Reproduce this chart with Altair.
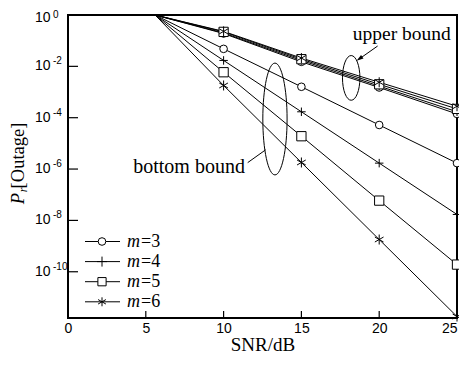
import altair as alt
import pandas as pd

# ---------------- data ----------------
snr = [10, 15, 20, 25]
start_snr = 5.6
m_labels = ["3", "4", "5", "6"]

bottom_bound = {
    "3": [4.8e-2, 1.6e-3, 5.2e-5, 1.7e-6],
    "4": [1.7e-2, 1.7e-4, 1.7e-6, 1.7e-8],
    "5": [5.9e-3, 1.9e-5, 5.9e-8, 1.9e-10],
    "6": [1.8e-3, 1.8e-6, 1.8e-9, 1.8e-12],
}
upper_bound = {
    "3": [1.9e-1, 1.5e-2, 1.5e-3, 1.4e-4],
    "4": [2.0e-1, 1.7e-2, 1.7e-3, 1.7e-4],
    "5": [2.2e-1, 1.9e-2, 2.0e-3, 2.2e-4],
    "6": [2.3e-1, 2.1e-2, 2.4e-3, 2.8e-4],
}
x_ticks = [0, 5, 10, 15, 20, 25]
y_ticks = [1, 1e-2, 1e-4, 1e-6, 1e-8, 1e-10]
y_tick_exp = ["0", "-2", "-4", "-6", "-8", "-10"]

# ---------------- styling ----------------
W, H = 389, 303
SERIF = "Liberation Serif"
SANS = "Liberation Sans"

paths = {
    "3": "circle",
    "4": "M-1,0L1,0M0,-1L0,1",
    "5": "square",
    "6": "M0,-1L0,1M-0.87,-0.5L0.87,0.5M-0.87,0.5L0.87,-0.5",
}
sizes = {"3": 58, "4": 100, "5": 68, "6": 80}

rows = []
for bound, d in [("bottom", bottom_bound), ("upper", upper_bound)]:
    for m in m_labels:
        rows.append(dict(snr=start_snr, p=1.0, m=m, series=bound + m, marker=False))
        for s, v in zip(snr, d[m]):
            rows.append(dict(snr=s, p=v, m=m, series=bound + m, marker=True))
df = pd.DataFrame(rows)

xs = alt.Scale(domain=[0, 25], nice=False, zero=False)
ys = alt.Scale(type="log", domain=[1.58e-12, 1], nice=False)
X = alt.X("snr:Q", scale=xs,
          axis=alt.Axis(values=x_ticks, format="d", ticks=False, domain=False, grid=False,
                        labelFont=SANS, labelFontSize=14, labelColor="black", labelPadding=3,
                        labelFlush=False,
                        labelAlign={"expr": "datum.value == 25 ? 'right' : 'center'"},
                        title="SNR/dB", titleFont=SERIF, titleFontSize=19,
                        titleFontWeight="normal", titleColor="black", titlePadding=0))
Y = alt.Y("p:Q", scale=ys, axis=None)

base = alt.Chart(df)
lines = base.mark_line(color="black", strokeWidth=1, clip=True).encode(
    x=X, y=Y, detail="series:N")
points = base.transform_filter("datum.marker").mark_point(
    filled=True, fill="white", stroke="black", strokeWidth=1, opacity=1).encode(
    x=X, y=Y,
    shape=alt.Shape("m:N", scale=alt.Scale(domain=m_labels, range=[paths[m] for m in m_labels]), legend=None),
    size=alt.Size("m:N", scale=alt.Scale(domain=m_labels, range=[sizes[m] for m in m_labels]), legend=None),
)

# ticks (inward)
xt = alt.Chart(pd.DataFrame({"snr": x_ticks})).mark_rule(color="black", strokeWidth=1.2).encode(
    x=X, y=alt.value(H), y2=alt.value(H - 7))
ydf = pd.DataFrame({"p": y_ticks, "base": ["10"] * len(y_ticks), "exp": y_tick_exp})
yt = alt.Chart(ydf).mark_rule(color="black", strokeWidth=1.2).encode(
    y=Y, x=alt.value(0), x2=alt.value(10))
ytop = alt.Chart(ydf.iloc[:1])
yrest = alt.Chart(ydf.iloc[1:])
lab_kw = dict(font=SANS, fontSize=14, align="left", baseline="middle", color="black")
exp_kw = dict(font=SANS, fontSize=10, align="left", baseline="middle", color="black")
ylab = yrest.mark_text(**lab_kw).encode(y=Y, x=alt.value(-33), text="base:N")
yexp = yrest.mark_text(dy=-5, **exp_kw).encode(y=Y, x=alt.value(-15), text="exp:N")
ylab0 = ytop.mark_text(dy=3, **lab_kw).encode(y=Y, x=alt.value(-33), text="base:N")
yexp0 = ytop.mark_text(dy=0, **exp_kw).encode(y=Y, x=alt.value(-15), text="exp:N")

# y title: P_r[Outage]
ytitle = [
    ("P", -50, 183.5, 18.5, "italic"),
    ("r", -45, 175, 12, "italic"),
    ("[Outage]", -50, 140.5, 18.5, "normal"),
]
ytitle_layers = []
for t, px, py, fs, st in ytitle:
    ytitle_layers.append(
        alt.Chart(pd.DataFrame({"t": [t]})).mark_text(
            font=SERIF, fontSize=fs, fontStyle=st, angle=270, align="center",
            baseline="middle", color="black").encode(
            x=alt.value(px), y=alt.value(py), text="t:N"))

# annotations
ell_up = alt.Chart(pd.DataFrame({"snr": [18.2], "p": [3.55e-3]})).mark_point(
    shape="M0,-1A0.39,1 0 1,1 0,1A0.39,1 0 1,1 0,-1Z", size=2000, filled=False,
    stroke="black", strokeWidth=1, opacity=1).encode(x=X, y=Y)
ell_bot = alt.Chart(pd.DataFrame({"snr": [13.3], "p": [8.9e-5]})).mark_point(
    shape="M0,-1A0.217,1 0 1,1 0,1A0.217,1 0 1,1 0,-1Z", size=12500, filled=False,
    stroke="black", strokeWidth=1, opacity=1).encode(x=X, y=Y)
arrow = alt.Chart(pd.DataFrame({"snr": [19.9], "p": [6.2e-2], "snr2": [18.75], "p2": [2.0e-2]})).mark_rule(
    color="black", strokeWidth=1).encode(x=X, y=Y, x2=alt.X2("snr2:Q"), y2=alt.Y2("p2:Q"))
head = alt.Chart(pd.DataFrame({"snr": [18.75], "p": [2.0e-2]})).mark_point(
    shape="M0,-1L0.55,0.8L-0.55,0.8Z", size=60, angle=235, filled=True, color="black", opacity=1).encode(x=X, y=Y)
conn = alt.Chart(pd.DataFrame({"snr": [11.55], "p": [1.78e-6], "snr2": [12.7], "p2": [5.6e-6]})).mark_rule(
    color="black", strokeWidth=1).encode(x=X, y=Y, x2=alt.X2("snr2:Q"), y2=alt.Y2("p2:Q"))
txt_up = alt.Chart(pd.DataFrame({"snr": [21.45], "p": [0.174], "t": ["upper bound"]})).mark_text(
    font=SERIF, fontSize=19.5, align="center", baseline="middle", color="black").encode(x=X, y=Y, text="t:N")
txt_bot = alt.Chart(pd.DataFrame({"snr": [7.78], "p": [1.15e-6], "t": ["bottom bound"]})).mark_text(
    font=SERIF, fontSize=20, align="center", baseline="middle", color="black").encode(x=X, y=Y, text="t:N")

# legend
leg_layers = []
for i, m in enumerate(m_labels):
    yy = 226.5 + i * 20.1
    leg_layers.append(alt.Chart(pd.DataFrame({"m": [m]})).mark_rule(color="black", strokeWidth=1).encode(
        x=alt.value(17), x2=alt.value(52), y=alt.value(yy)))
    leg_layers.append(alt.Chart(pd.DataFrame({"m": [m]})).mark_point(
        shape=paths[m], size=sizes[m], filled=True, fill="white", stroke="black", strokeWidth=1, opacity=1).encode(
        x=alt.value(34), y=alt.value(yy)))
    leg_layers.append(alt.Chart(pd.DataFrame({"t": ["m"]})).mark_text(
        font=SERIF, fontSize=18, fontStyle="italic", align="left", baseline="middle", color="black").encode(
        x=alt.value(59), y=alt.value(yy), text="t:N"))
    leg_layers.append(alt.Chart(pd.DataFrame({"t": ["=" + m]})).mark_text(
        font=SERIF, fontSize=18, align="left", baseline="middle", color="black").encode(
        x=alt.value(73), y=alt.value(yy), text="t:N"))

chart = alt.layer(
    lines, points, xt, yt, ylab, yexp, ylab0, yexp0, ell_up, ell_bot, arrow, head, conn, txt_up, txt_bot,
    *ytitle_layers, *leg_layers
).properties(
    width=W, height=H,
    autosize=alt.AutoSizeParams(type="none"),
    padding={"left": 60, "top": 7, "right": 2, "bottom": 35},
    background="white",
).configure_view(stroke="black", strokeWidth=2)

chart.save("out.html", embed_options={"renderer": "svg", "actions": False})
